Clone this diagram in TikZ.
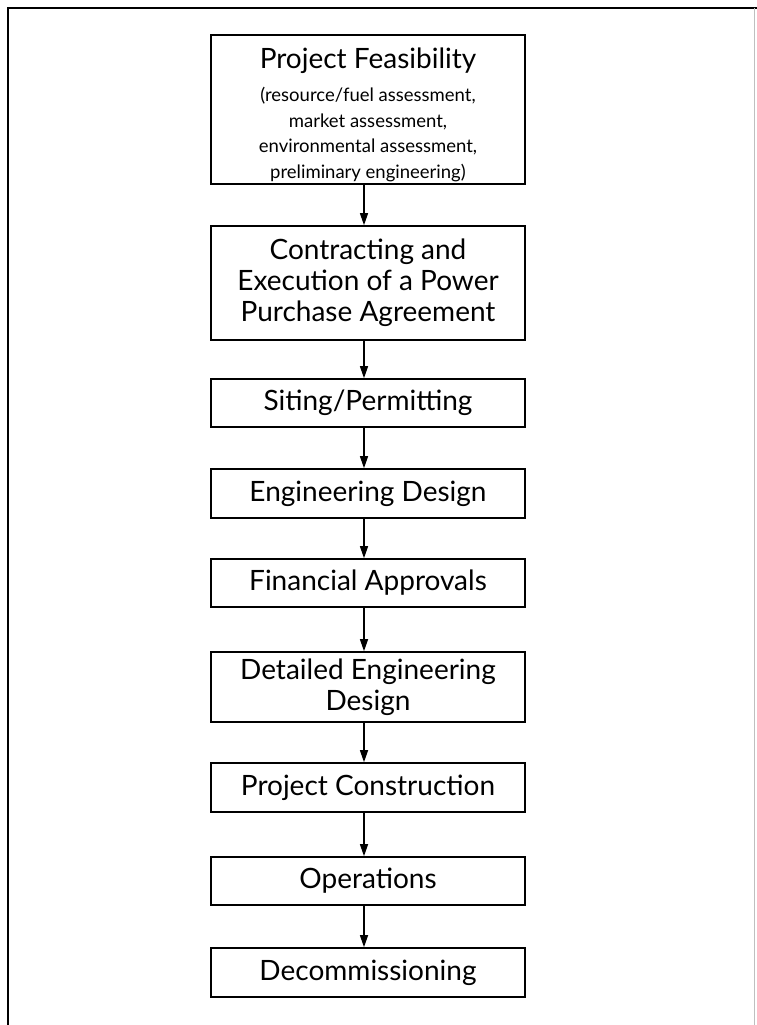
\documentclass[tikz,border=0pt]{standalone}
\usepackage{fontspec}
\setmainfont{Lato}
\usetikzlibrary{arrows.meta}
\newcommand{\smallline}[1]{\fontsize{18.5}{27.5}\selectfont #1}
\begin{document}
\begin{tikzpicture}[x=1pt,y=-1pt,
  stagebox/.style={draw=black, line width=1.6pt, rectangle, minimum width=314pt, inner sep=0pt, align=center, font=\fontsize{28}{31}\selectfont},
  flow/.style={line width=1.3pt, -{Triangle[length=12pt,width=8pt]}}]
\useasboundingbox (0,0) rectangle (756,1025);
% outer frame
\draw[line width=2.2pt] (8,1030) -- (8,8) -- (760,8);
\draw[line width=1pt, black!25] (754,8) -- (754,1030);
% stages
\node[stagebox, minimum height=149pt] (feas) at (368,109.5) {\rule{0pt}{31pt}Project Feasibility\\[2pt]
  \smallline{(resource/fuel assessment,}\\[-5.5pt] \smallline{market assessment,}\\[-5.5pt] \smallline{environmental assessment,}\\[-5.5pt] \smallline{preliminary engineering)}};
\node[stagebox, minimum height=114pt] (ppa) at (368,283) {Contracting and\\ Execution of a Power\\ Purchase Agreement};
\node[stagebox, minimum height=48pt] (site) at (368,403) {Siting/Permitting};
\node[stagebox, minimum height=49pt] (eng) at (368,493.5) {Engineering Design};
\node[stagebox, minimum height=48pt] (fin) at (368,583) {Financial Approvals};
\node[stagebox, minimum height=70pt] (det) at (368,687) {Detailed Engineering\\ Design};
\node[stagebox, minimum height=49pt] (cons) at (368,787.5) {Project Construction};
\node[stagebox, minimum height=48pt] (ops) at (368,881) {Operations};
\node[stagebox, minimum height=49pt] (decom) at (368,972.5) {Decommissioning};
% connectors
\foreach \a/\b in {feas/ppa, ppa/site, site/eng, eng/fin, fin/det, det/cons, cons/ops, ops/decom}
  \draw[flow] ([xshift=-4pt]\a.south) -- ([xshift=-4pt]\b.north);
\end{tikzpicture}
\end{document}
